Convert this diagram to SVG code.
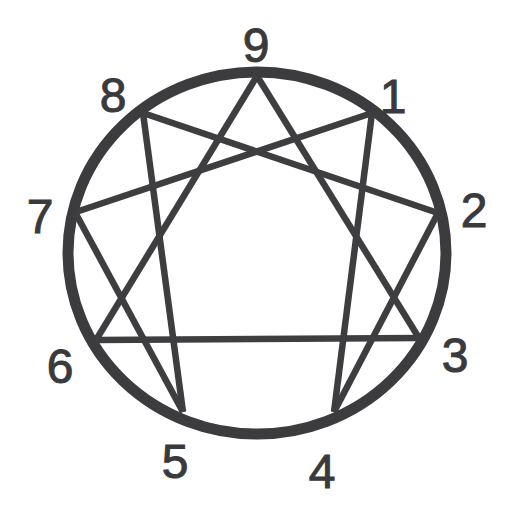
<svg xmlns="http://www.w3.org/2000/svg" width="517" height="522" viewBox="0 0 517 522">
<style>
.ring{fill:none;stroke:#3c3c3e;stroke-width:11}
.bar{stroke:#3e3e40;stroke-width:6.5;stroke-linecap:butt;fill:none}
.num{font-family:"Liberation Sans",Arial,sans-serif;font-size:48px;fill:#3a3a3c;text-anchor:middle;stroke:#3a3a3c;stroke-width:1}
</style>
<rect width="517" height="522" fill="#ffffff"/>
<g id="ring"><ellipse class="ring" cx="257" cy="253" rx="189" ry="181"/></g>
<g id="connectors">
<line class="bar" x1="257" y1="76" x2="419" y2="338"/>
<line class="bar" x1="257" y1="76" x2="96" y2="340"/>
<line class="bar" x1="96" y1="340" x2="419" y2="338"/>
<line class="bar" x1="372" y1="113" x2="334" y2="412"/>
<line class="bar" x1="334" y1="412" x2="438" y2="213"/>
<line class="bar" x1="438" y1="213" x2="143" y2="113"/>
<line class="bar" x1="143" y1="113" x2="183" y2="412"/>
<line class="bar" x1="183" y1="412" x2="76" y2="214"/>
<line class="bar" x1="76" y1="212" x2="372" y2="113"/>
</g>
<g id="n9"><text class="num" x="256" y="62">9</text></g>
<g id="n1"><text class="num" x="393" y="113">1</text></g>
<g id="n2"><text class="num" x="474" y="227">2</text></g>
<g id="n3"><text class="num" x="455" y="372">3</text></g>
<g id="n4"><text class="num" x="322" y="488">4</text></g>
<g id="n5"><text class="num" x="175" y="478">5</text></g>
<g id="n6"><text class="num" x="60" y="383">6</text></g>
<g id="n7"><text class="num" x="40" y="233">7</text></g>
<g id="n8"><text class="num" x="113" y="112">8</text></g>
</svg>
